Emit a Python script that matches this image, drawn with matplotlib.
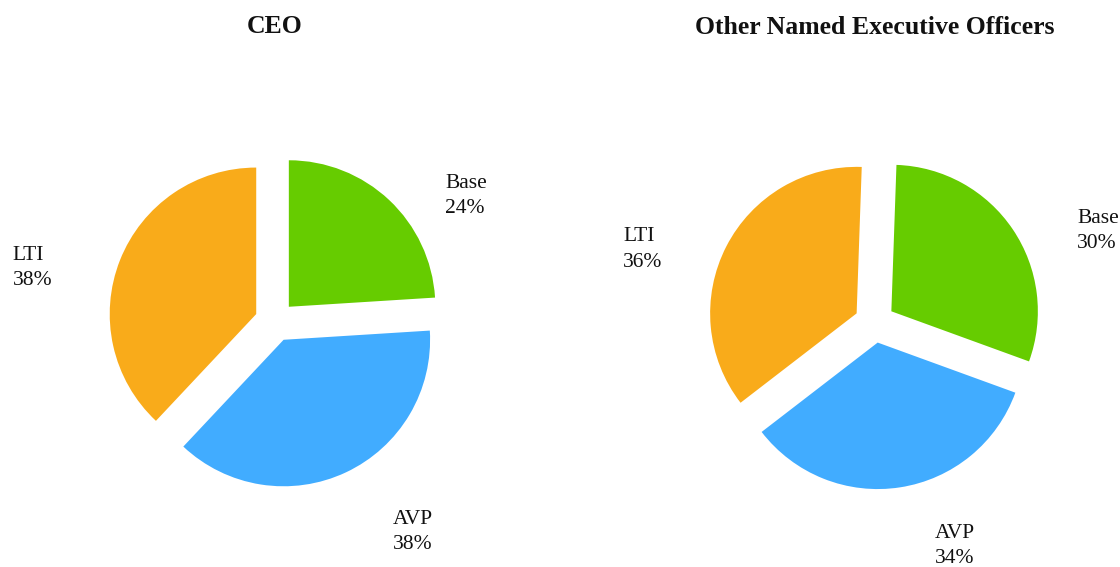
import matplotlib
matplotlib.use('Agg')
import matplotlib.pyplot as plt

#####################################################################
# Data

titles = ['CEO', 'Other Named Executive Officers']
labels = ['Base', 'AVP', 'LTI']
ceo_values = [24, 38, 38]
neo_values = [30, 34, 36]
colors = ['#66cc00', '#41acff', '#f9ab1a']

#####################################################################
# Layout (pixels in the 1120x567 figure)

W, H = 1120, 567
R = 146.5                                # pie radius in px
centers = [(275.0, 321.5), (874.6, 322.6)]  # pie centres, y from top
start_angles = [90, 88]
explode_px = 20.2

# label anchor (left edge, last baseline) relative to centre, in radii
label_pos = [
    [(1.160, 0.739), (0.807, -1.553), (-1.790, 0.249)],
    [(1.382, 0.509), (0.412, -1.640), (-1.715, 0.382)],
]
title_y = 1.97

plt.rcParams['font.family'] = ['Liberation Serif', 'DejaVu Serif']

fig = plt.figure(figsize=(W / 100, H / 100), dpi=100)

for i, values in enumerate([ceo_values, neo_values]):
    x0 = i * W / 2
    ax = fig.add_axes([x0 / W, 0, 0.5, 1])
    cx, cy = centers[i]
    ax.pie(values, colors=colors, startangle=start_angles[i], counterclock=False,
           explode=[explode_px / R] * len(values),
           wedgeprops=dict(linewidth=0))
    ax.set_xlim((x0 - cx) / R, (x0 + W / 2 - cx) / R)
    ax.set_ylim((cy - H) / R, cy / R)
    ax.axis('off')

    # labels
    for j, lab in enumerate(labels):
        dx, dy = label_pos[i][j]
        ax.text(dx, dy, lab + '\n' + str(values[j]) + '%', ha='left', va='baseline',
                fontsize=15.5, color='#111111', linespacing=1.45, clip_on=False)

    ax.text(0, title_y, titles[i], ha='center', va='baseline', fontsize=18.5,
            fontweight='bold', color='#111111', clip_on=False)

plt.savefig('out.png', dpi=100)
